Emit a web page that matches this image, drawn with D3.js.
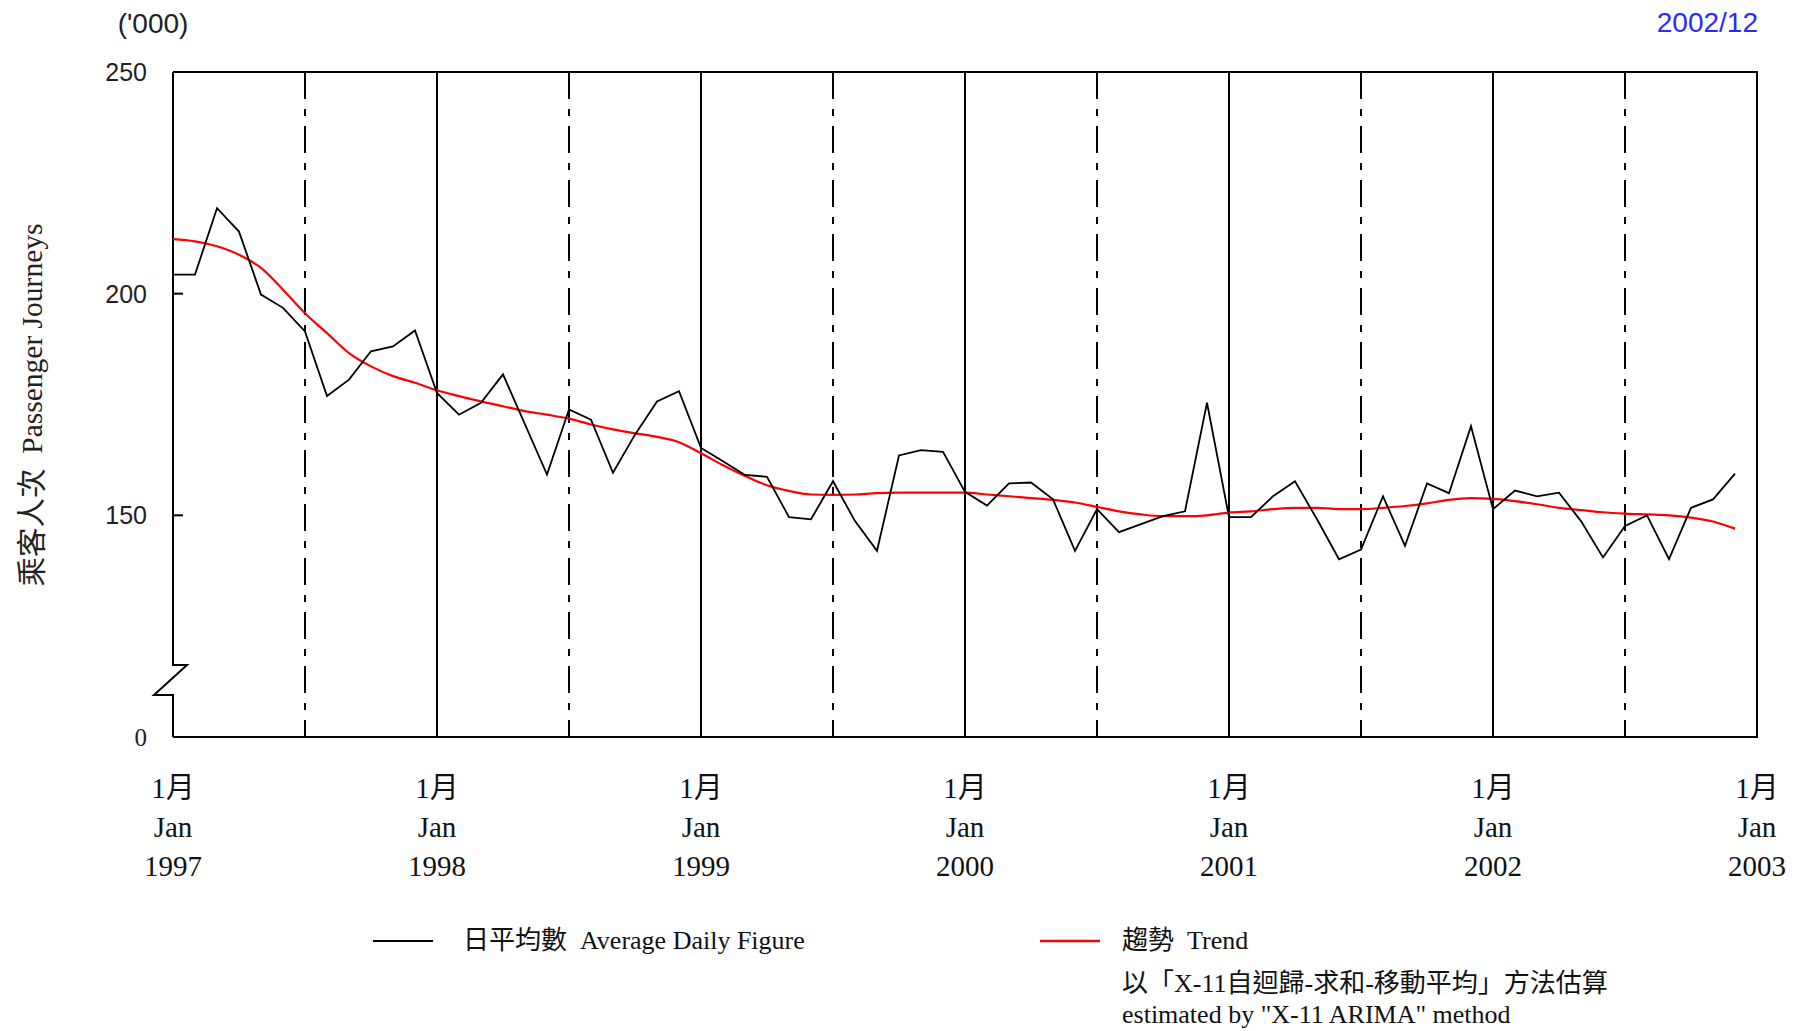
<!DOCTYPE html>
<html>
<head>
<meta charset="utf-8">
<script src="https://cdn.jsdelivr.net/npm/d3@7"></script>
<style>
  html, body { margin: 0; padding: 0; background: #fff; }
  svg { display: block; }
</style>
</head>
<body>
<svg id="chart" width="1800" height="1031"></svg>
<script>
// ---- Data (thousands of passenger journeys, monthly Jan 1997 - Dec 2002) ----
const yearLabels = ["1997", "1998", "1999", "2000", "2001", "2002", "2003"];
const avgDaily = [
  204.3, 204.3, 219.3, 214.0, 199.8, 196.8, 191.5, 176.9, 180.6, 187.0, 188.1, 191.7,
  177.6, 172.7, 175.4, 181.8, 170.5, 159.2, 173.9, 171.6, 159.6, 168.2, 175.7, 178.0,
  165.2, 162.2, 159.1, 158.7, 149.6, 149.1, 157.7, 148.7, 142.0, 163.5, 164.7, 164.3,
  155.3, 152.2, 157.2, 157.4, 153.6, 142.0, 151.4, 146.2, 148.0, 149.8, 150.9, 175.4,
  149.6, 149.6, 154.3, 157.7, 149.1, 140.1, 142.3, 154.3, 143.1, 157.2, 155.0, 170.1,
  151.4, 155.6, 154.3, 155.1, 148.7, 140.5, 147.6, 150.0, 140.1, 151.7, 153.6, 159.4
];
const trend = [
  212.3, 211.8, 210.7, 208.8, 205.8, 200.9, 195.6, 191.1, 186.6, 183.6, 181.4, 179.9,
  178.2, 176.9, 175.7, 174.6, 173.5, 172.7, 171.8, 170.5, 169.4, 168.5, 167.7, 166.5,
  164.0, 161.3, 158.9, 156.8, 155.5, 154.7, 154.6, 154.7, 155.0, 155.1, 155.1, 155.1,
  155.1, 154.7, 154.3, 153.9, 153.5, 152.9, 151.9, 150.9, 150.2, 149.8, 149.8, 150.0,
  150.6, 150.9, 151.4, 151.7, 151.7, 151.4, 151.4, 151.7, 152.1, 152.7, 153.5, 153.9,
  153.7, 153.2, 152.5, 151.7, 151.2, 150.7, 150.4, 150.2, 150.0, 149.5, 148.6, 147.0
];
const yTickValues = [100, 150, 200, 250];
const yTickLabels = ["0", "150", "200", "250"];

// ---- Layout ----
const pLeft = 173, pRight = 1757, pTop = 72, pBottom = 737;
const svg = d3.select("#chart");
svg.append("rect").attr("width", 1800).attr("height", 1031).attr("fill", "#fff");

const x = d3.scaleLinear().domain([0, 72]).range([pLeft, pRight]);
const y = d3.scaleLinear().domain([100, 250]).range([pBottom, pTop]);

const serif = "'Liberation Serif', 'Times New Roman', 'Noto Sans CJK TC', serif";
const sans = "'Liberation Sans', Arial, 'Noto Sans CJK TC', sans-serif";

// ---- Gridlines: solid at each January, dash-dot at each July ----
const g = svg.append("g");
d3.range(12, 72, 12).forEach(m => {
  g.append("line").attr("x1", x(m)).attr("x2", x(m)).attr("y1", pTop).attr("y2", pBottom)
    .attr("stroke", "#000").attr("stroke-width", 2);
});
d3.range(6, 72, 12).forEach(m => {
  g.append("line").attr("x1", x(m)).attr("x2", x(m)).attr("y1", pTop).attr("y2", pBottom)
    .attr("stroke", "#000").attr("stroke-width", 2)
    .attr("stroke-dasharray", "27,10,7,10");
});

// ---- Frame (top, right, bottom, left with axis break) ----
svg.append("path")
  .attr("d", `M${pLeft},${pBottom} H${pRight} V${pTop} H${pLeft}`)
  .attr("fill", "none").attr("stroke", "#000").attr("stroke-width", 2);
svg.append("path")
  .attr("d", `M${pLeft},${pTop} V665 H${pLeft + 14} L${pLeft - 19},695 H${pLeft} V${pBottom}`)
  .attr("fill", "none").attr("stroke", "#000").attr("stroke-width", 2)
  .attr("stroke-linejoin", "miter");

// y ticks (inward)
yTickValues.forEach((v, i) => {
  if (v === 150 || v === 200) {
    svg.append("line").attr("x1", pLeft).attr("x2", pLeft + 10)
      .attr("y1", y(v)).attr("y2", y(v)).attr("stroke", "#000").attr("stroke-width", 2);
  }
  svg.append("text").attr("x", 147).attr("y", y(v))
    .attr("text-anchor", "end").attr("dominant-baseline", "central")
    .attr("font-family", v === 100 ? serif : sans).attr("font-size", 25)
    .attr("fill", "#222").text(yTickLabels[i]);
});

// x labels
yearLabels.forEach((yr, k) => {
  const cx = x(k * 12);
  const lines = ["1月", "Jan", yr];
  const ys = [788, 827, 866];
  lines.forEach((t, j) => {
    svg.append("text").attr("x", cx).attr("y", ys[j])
      .attr("text-anchor", "middle").attr("dominant-baseline", "central")
      .attr("font-family", serif).attr("font-size", 29).attr("fill", "#111").text(t);
  });
});

// ---- Series ----
const line = d3.line().x((d, i) => x(i)).y(d => y(d));
const smooth = d3.line().x((d, i) => x(i)).y(d => y(d)).curve(d3.curveMonotoneX);
svg.append("path").datum(trend).attr("d", smooth)
  .attr("fill", "none").attr("stroke", "#ff0000").attr("stroke-width", 2.2)
  .attr("stroke-linejoin", "round");
svg.append("path").datum(avgDaily).attr("d", line)
  .attr("fill", "none").attr("stroke", "#000").attr("stroke-width", 1.8)
  .attr("stroke-linejoin", "miter");

// ---- Header texts ----
svg.append("text").attr("x", 153).attr("y", 23).attr("text-anchor", "middle")
  .attr("dominant-baseline", "central").attr("font-family", sans).attr("font-size", 28)
  .attr("fill", "#222").text("('000)");
svg.append("text").attr("x", 1758).attr("y", 22).attr("text-anchor", "end")
  .attr("dominant-baseline", "central").attr("font-family", sans).attr("font-size", 28)
  .attr("fill", "#2a2aff").text("2002/12");

// y title
svg.append("text").attr("transform", "translate(32,405) rotate(-90)")
  .attr("text-anchor", "middle").attr("dominant-baseline", "central")
  .attr("font-family", serif).attr("font-size", 29.5).attr("fill", "#222")
  .attr("xml:space", "preserve").text("乘客人次  Passenger Journeys");

// ---- Legend ----
svg.append("line").attr("x1", 373).attr("x2", 433).attr("y1", 941).attr("y2", 941)
  .attr("stroke", "#000").attr("stroke-width", 2);
svg.append("text").attr("x", 463).attr("y", 940).attr("dominant-baseline", "central")
  .attr("font-family", serif).attr("font-size", 26).attr("fill", "#111")
  .attr("xml:space", "preserve").text("日平均數  Average Daily Figure");
svg.append("line").attr("x1", 1040).attr("x2", 1100).attr("y1", 941).attr("y2", 941)
  .attr("stroke", "#ff0000").attr("stroke-width", 2.5);
svg.append("text").attr("x", 1122).attr("y", 940).attr("dominant-baseline", "central")
  .attr("font-family", serif).attr("font-size", 26).attr("fill", "#111")
  .attr("xml:space", "preserve").text("趨勢  Trend");
svg.append("text").attr("x", 1122).attr("y", 983).attr("dominant-baseline", "central")
  .attr("font-family", serif).attr("font-size", 26).attr("fill", "#111")
  .text("以「X-11自迴歸-求和-移動平均」方法估算");
svg.append("text").attr("x", 1122).attr("y", 1014).attr("dominant-baseline", "central")
  .attr("font-family", serif).attr("font-size", 26).attr("fill", "#111")
  .text('estimated by "X-11 ARIMA" method');
</script>
</body>
</html>
